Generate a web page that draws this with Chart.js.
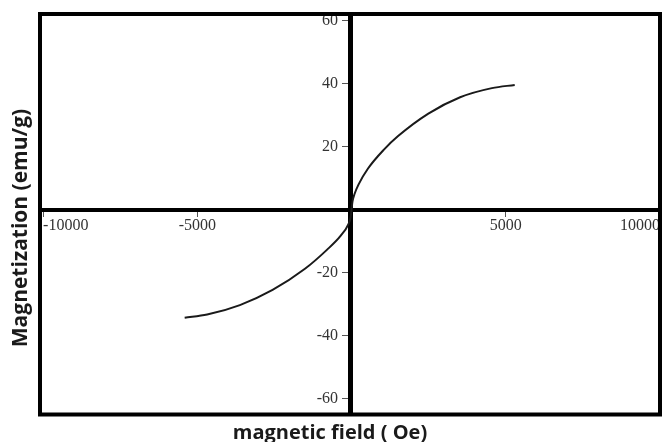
<!DOCTYPE html>
<html>
<head>
<meta charset="utf-8">
<script src="https://cdn.jsdelivr.net/npm/chart.js@4.4.0/dist/chart.umd.min.js"></script>
<style>
  html, body { margin: 0; padding: 0; background: #fff; }
  #wrap { width: 662px; height: 442px; position: relative; }
</style>
</head>
<body>
<div id="wrap"><canvas id="c"></canvas></div>
<script>
// Magnetic field (Oe) and magnetization (emu/g)
const fieldOe = [-5410, -4680, -3620, -2560, -1510, -800, -350, -100, -30, 0, 30, 100, 225, 534, 1050, 1500, 2490, 3520, 4550, 5290];
const magnetization = [-34.3, -33.3, -30.3, -25.5, -18.8, -12.8, -8.3, -4.6, -2.5, 0, 2.5, 5.0, 7.9, 13.0, 19.0, 23.2, 30.4, 35.6, 38.5, 39.5];
const xTickValues = [-10000, -5000, 5000, 10000];
const yTickValues = [60, 40, 20, -20, -40, -60];
const xTitle = 'magnetic field ( Oe)';
const yTitle = 'Magnetization (emu/g)';

const points = fieldOe.map((x, i) => ({ x: x, y: magnetization[i] }));

const framePlugin = {
  id: 'frame',
  beforeDatasetsDraw(chart) {
    const { ctx, chartArea: a } = chart;
    ctx.save();
    ctx.strokeStyle = '#000';
    ctx.lineWidth = 4;
    ctx.strokeRect(a.left, a.top, a.right - a.left, a.bottom - a.top);
    ctx.restore();
  }
};

const tickFont = { family: 'Liberation Serif', size: 16 };

new Chart(document.getElementById('c'), {
  type: 'line',
  data: {
    datasets: [{
      data: points,
      borderColor: '#1a1a1a',
      borderWidth: 2,
      pointRadius: 0,
      fill: false,
      cubicInterpolationMode: 'monotone'
    }]
  },
  options: {
    responsive: true,
    maintainAspectRatio: false,
    animation: false,
    layout: { padding: { left: 0, right: 2, top: 14, bottom: 0 } },
    plugins: {
      legend: { display: false },
      tooltip: { enabled: false },
      title: {
        display: true,
        text: yTitle,
        position: 'left',
        color: '#1a1a1a',
        font: { family: 'Open Sans', size: 21, weight: 'bold', lineHeight: 1.0 },
        padding: { top: 11, bottom: 8 }
      },
      subtitle: {
        display: true,
        text: xTitle,
        position: 'bottom',
        color: '#1a1a1a',
        font: { family: 'Open Sans', size: 20, weight: 'bold', lineHeight: 0.85 },
        padding: { top: 10.5, bottom: 0 }
      }
    },
    scales: {
      x: {
        type: 'linear',
        min: -10100,
        max: 10000,
        position: { y: 0 },
        afterBuildTicks: s => { s.ticks = xTickValues.map(v => ({ value: v })); },
        afterFit: s => { s.paddingLeft = 0; s.paddingRight = 0; },
        border: { display: true, color: '#000', width: 4 },
        grid: { display: true, drawOnChartArea: false, drawTicks: true, tickLength: 5, color: '#555', lineWidth: 1 },
        ticks: { font: tickFont, color: '#333', padding: 2, align: 'inner', maxRotation: 0, autoSkip: false,
                 callback: v => String(v) }
      },
      y: {
        type: 'linear',
        min: -65,
        max: 62,
        position: 'center',
        afterBuildTicks: s => { s.ticks = yTickValues.map(v => ({ value: v })); },
        afterFit: s => { s.paddingTop = 0; s.paddingBottom = 0; },
        border: { display: true, color: '#000', width: 5 },
        grid: { display: true, drawOnChartArea: false, drawTicks: true, tickLength: 6, color: '#555', lineWidth: 1 },
        ticks: { font: tickFont, color: '#333', padding: 6, autoSkip: false, callback: v => String(v) }
      }
    }
  },
  plugins: [framePlugin]
});
</script>
</body>
</html>
